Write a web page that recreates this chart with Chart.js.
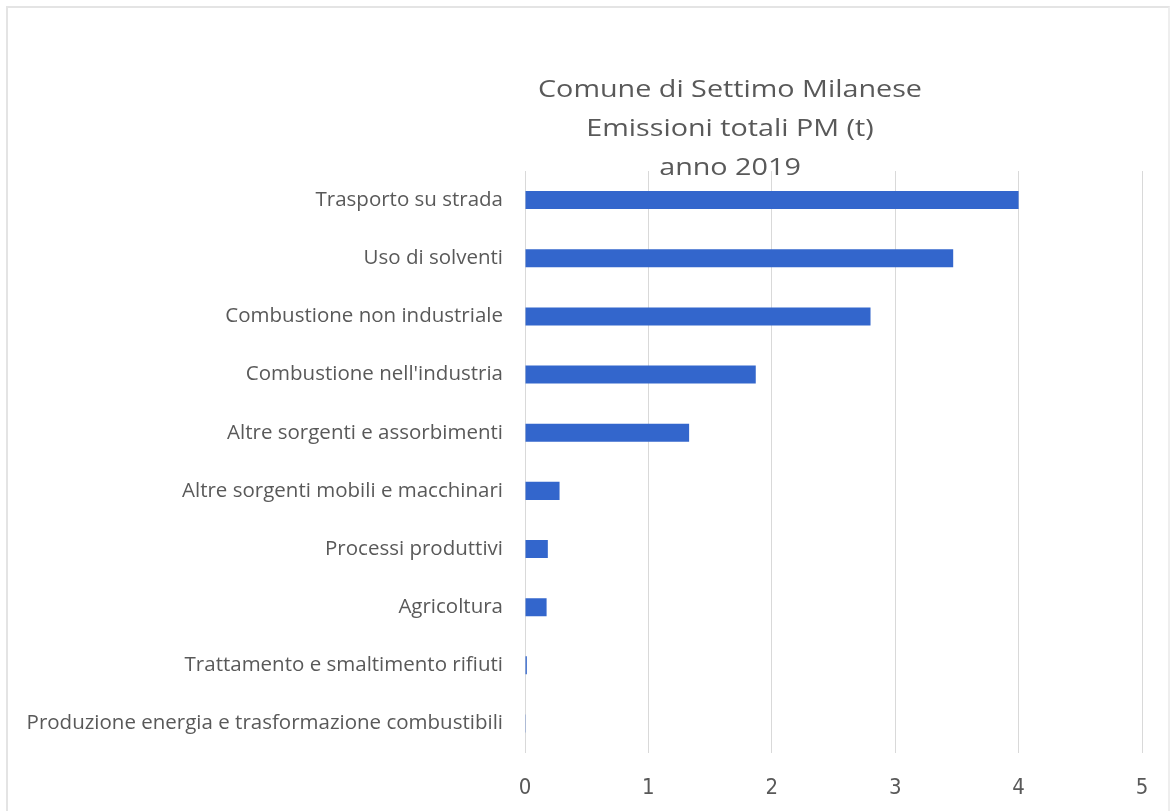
<!DOCTYPE html>
<html>
<head>
<meta charset="utf-8">
<script src="https://cdn.jsdelivr.net/npm/chart.js@4"></script>
<style>
  html, body { margin: 0; padding: 0; background: #fff; }
  #wrap { position: relative; width: 1172px; height: 811px; }
  #cornice { position: absolute; left: 6px; top: 6px; width: 1164px; height: 810px; border-left: 2px solid #e4e4e4; border-top: 2px solid #e4e4e4; border-right: 2px solid #eeeeee; box-sizing: border-box; pointer-events: none; }
</style>
</head>
<body>
<div id="wrap">
  <canvas id="grafico" width="1172" height="811"></canvas>
  <div id="cornice"></div>
</div>
<script>
// dati
const categorie = [
    'Trasporto su strada',
    'Uso di solventi',
    'Combustione non industriale',
    "Combustione nell'industria",
    'Altre sorgenti e assorbimenti',
    'Altre sorgenti mobili e macchinari',
    'Processi produttivi',
    'Agricoltura',
    'Trattamento e smaltimento rifiuti',
    'Produzione energia e trasformazione combustibili'
];
const emissioni = [4.0, 3.47, 2.8, 1.87, 1.33, 0.28, 0.185, 0.175, 0.015, 0.002];
const titolo = ['Comune di Settimo Milanese', 'Emissioni totali PM (t)', 'anno 2019'];
const tickX = [0, 1, 2, 3, 4, 5];

const grigio = '#595959';
const font = '"Open Sans", Lato, sans-serif';
const fontNumeri = '"Liberation Sans Narrow", "DejaVu Sans Condensed", "Open Sans", sans-serif';

// titolo disegnato a mano, centrato come nell'originale
const pluginTitolo = {
    id: 'titolo',
    afterDraw(chart) {
        const ctx = chart.ctx;
        ctx.save();
        ctx.fillStyle = grigio;
        ctx.font = '23px ' + font;
        ctx.textAlign = 'center';
        ctx.textBaseline = 'alphabetic';
        // il titolo originale e' piu' largo: allargo in orizzontale
        const k = 384 / ctx.measureText(titolo[0]).width;
        ctx.translate(730, 0);
        ctx.scale(k, 1);
        titolo.forEach((riga, i) => {
            ctx.fillText(riga, 0, 97 + i * 39);
        });
        ctx.restore();
    }
};

const ctx = document.getElementById('grafico').getContext('2d');
new Chart(ctx, {
    type: 'bar',
    data: {
        labels: categorie,
        datasets: [{
            label: 'Emissioni totali PM (t)',
            data: emissioni,
            backgroundColor: '#3366cc',
            borderWidth: 0,
            barPercentage: 0.31,
            categoryPercentage: 1.0
        }]
    },
    options: {
        indexAxis: 'y',
        responsive: false,
        animation: false,
        layout: { padding: { left: 10, right: 30, top: 171, bottom: -12 } },
        plugins: {
            legend: { display: false },
            tooltip: { enabled: false }
        },
        scales: {
            x: {
                min: 0,
                max: 5,
                afterBuildTicks: (s) => { s.ticks = tickX.map(v => ({ value: v })); },
                grid: { color: '#d9d9d9', drawTicks: false, lineWidth: 1 },
                border: { display: false },
                ticks: { color: grigio, font: { size: 22, family: fontNumeri }, padding: 22 }
            },
            y: {
                afterFit: (s) => { s.width = 515; },
                grid: { display: false },
                border: { display: true, color: '#d9d9d9' },
                ticks: { color: grigio, font: { size: 20.5, family: font }, padding: 14 }
            }
        }
    },
    plugins: [pluginTitolo]
});
</script>
</body>
</html>
